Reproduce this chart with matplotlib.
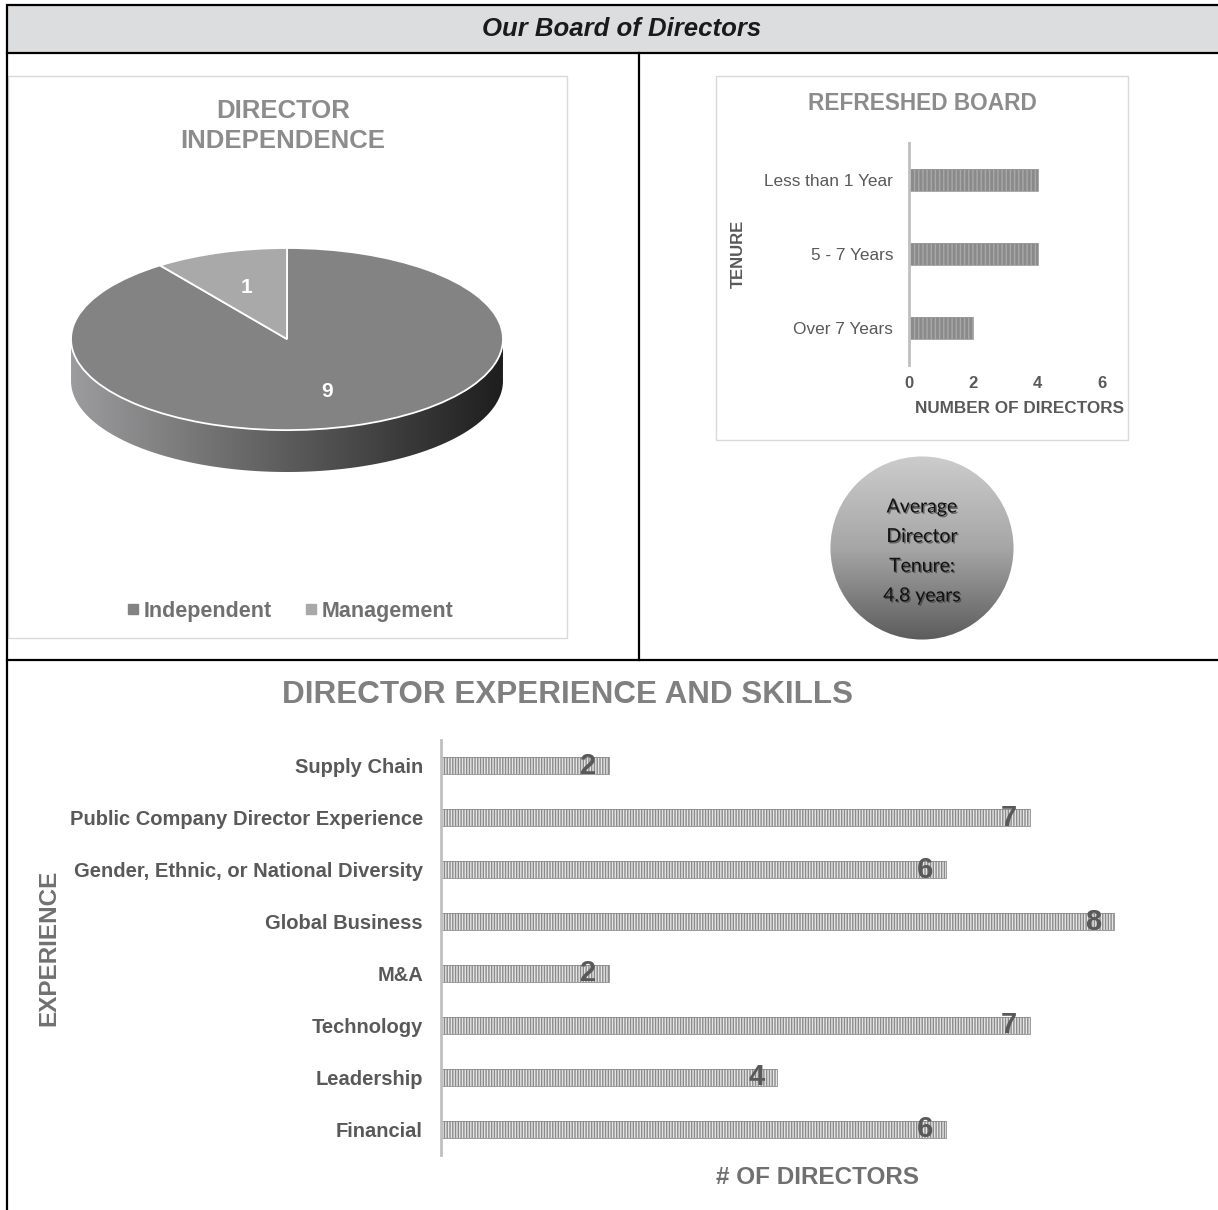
import numpy as np
import matplotlib
matplotlib.use("Agg")
import matplotlib.pyplot as plt
from matplotlib.patches import Rectangle, Polygon, Circle
from matplotlib.lines import Line2D
from matplotlib.colors import LinearSegmentedColormap
from matplotlib import patheffects

plt.rcParams['font.family'] = ['Liberation Sans', 'DejaVu Sans']
plt.rcParams['hatch.linewidth'] = 1.0

# data
independence_labels = ["Independent", "Management"]
independence_counts = [9, 1]

tenure_labels = ["Over 7 Years", "5 - 7 Years", "Less than 1 Year"]
tenure_counts = [2, 4, 4]
tenure_ticks = [0, 2, 4, 6]

avg_tenure = 4.8

skills = ["Supply Chain", "Public Company Director Experience",
          "Gender, Ethnic, or National Diversity", "Global Business",
          "M&A", "Technology", "Leadership", "Financial"]
skill_counts = [2, 7, 6, 8, 2, 7, 4, 6]

W, H = 1218, 1210
fig = plt.figure(figsize=(W / 100, H / 100), dpi=100)


def box(x0, y0, x1, y1):
    # pixel box -> figure fraction rect
    return [x0 / W, 1 - y1 / H, (x1 - x0) / W, (y1 - y0) / H]


# page frame / header
bg = fig.add_axes([0, 0, 1, 1], zorder=-10)
bg.set_xlim(0, W)
bg.set_ylim(H, 0)
bg.axis('off')
bg.add_patch(Rectangle((7, 5), 1230, 48, facecolor='#dcdddf', edgecolor='black', lw=1.6))
bg.plot([639, 639], [53, 660], color='black', lw=1.6)
bg.plot([7, W + 5], [660, 660], color='black', lw=1.6)
bg.plot([7, 7], [53, H + 5], color='black', lw=1.6)
bg.add_patch(Rectangle((8, 76), 559, 562, facecolor='none', edgecolor='#d9d9d9', lw=1))
bg.add_patch(Rectangle((716, 76), 412, 364, facecolor='none', edgecolor='#d9d9d9', lw=1))
bg.text(622, 29, "Our Board of Directors", ha='center', va='center',
        fontsize=18.5, fontweight='bold', fontstyle='italic', color='#1a1a1a')

# director independence (3d-ish pie)
bg.text(283, 126, "DIRECTOR\nINDEPENDENCE", ha='center', va='center',
        fontsize=18.5, fontweight='bold', color='#8c8c8c', linespacing=1.3)

pie_ax = fig.add_axes(box(68, 245, 506, 475))
depth = 0.46
t = np.linspace(np.pi, 2 * np.pi, 200)
side = np.concatenate([np.c_[np.cos(t), np.sin(t)],
                       np.c_[np.cos(t[::-1]), np.sin(t[::-1]) - depth]])
side_poly = Polygon(side, closed=True, facecolor='none', edgecolor='none')
pie_ax.add_patch(side_poly)
side_cmap = LinearSegmentedColormap.from_list('side', ['#9c9c9e', '#5c5c5c', '#1e1e1e'])
im = pie_ax.imshow(np.linspace(0, 1, 256).reshape(1, -1), extent=[-1, 1, -1 - depth, 0],
                   cmap=side_cmap, aspect='auto', zorder=0.5)
im.set_clip_path(side_poly)

total = sum(independence_counts)
wedges, texts, autotexts = pie_ax.pie(
    independence_counts, colors=['#838383', '#a9a9a9'], startangle=90,
    counterclock=False, autopct=lambda p: f"{round(p * total / 100)}",
    pctdistance=0.6, wedgeprops=dict(edgecolor='white', linewidth=1.3),
    textprops=dict(color='white', fontsize=15, fontweight='bold'))
for w in wedges:
    w.set_zorder(2)
for a in autotexts:
    a.set_zorder(3)
pie_ax.set_aspect('auto')
pie_ax.set_xlim(-1.014, 1.014)
pie_ax.set_ylim(-1 - depth - 0.033, 1.033)
pie_ax.axis('off')

handles = [Line2D([], [], marker='s', ls='none', markersize=7, color=c)
           for c in ['#838383', '#a9a9a9']]
fig.legend(handles, independence_labels, loc='center', bbox_to_anchor=(290 / W, 1 - 611 / H),
           ncol=2, frameon=False, handlelength=0.6, handletextpad=0.2, columnspacing=1.5,
           prop=dict(size=15.5, weight='bold'), labelcolor='#707070')

# refreshed board
bg.text(922, 103, "REFRESHED BOARD", ha='center', va='center',
        fontsize=16.3, fontweight='bold', color='#8c8c8c')
ax1 = fig.add_axes(box(909, 143, 1102, 365))
yt = np.arange(len(tenure_labels))
ax1.barh(yt, tenure_counts, height=0.3, color='#8a8a8a', hatch='||||',
         edgecolor='#a8a8a8', linewidth=0)
ax1.barh(yt, tenure_counts, height=0.3, fill=False, edgecolor='#9a9a9a', linewidth=0.6)
ax1.set_xlim(0, 6)
ax1.set_ylim(-0.5, 2.5)
ax1.set_xticks(tenure_ticks)
ax1.set_xticklabels([str(v) for v in tenure_ticks], fontsize=12, fontweight='bold', color='#595959')
ax1.set_yticks(yt)
ax1.set_yticklabels(tenure_labels, fontsize=12.4, color='#595959')
ax1.tick_params(length=0)
ax1.tick_params(axis='y', pad=11.5)
ax1.tick_params(axis='x', pad=8)
for s in ['top', 'right', 'bottom']:
    ax1.spines[s].set_visible(False)
ax1.spines['left'].set_color('#bfbfbf')
ax1.spines['left'].set_linewidth(2)
ax1.patch.set_alpha(0)
ax1.set_xlabel("NUMBER OF DIRECTORS", fontsize=12.3, fontweight='bold', color='#595959')
ax1.xaxis.set_label_coords((1019.5 - 909) / 193, -36 / 222)
ax1.set_ylabel("TENURE", fontsize=12, fontweight='bold', color='#595959')
ax1.yaxis.set_label_coords((746 - 909) / 193, 0.5)

# average tenure bubble
circ_ax = fig.add_axes(box(830, 456, 1014, 640))
circ_ax.set_xlim(-1, 1)
circ_ax.set_ylim(-1, 1)
circ_ax.axis('off')
circ_cmap = LinearSegmentedColormap.from_list('circ', ['#5c5c5c', '#a6a6a6', '#cccccc'])
im2 = circ_ax.imshow(np.linspace(1, 0, 256).reshape(-1, 1), extent=[-1, 1, -1, 1],
                     cmap=circ_cmap, aspect='auto')
disc = Circle((0, 0), 0.995, facecolor='none', edgecolor='none')
circ_ax.add_patch(disc)
im2.set_clip_path(disc)
bubble_lines = ["Average", "Director", "Tenure:", f"{avg_tenure} years"]
for i, line in enumerate(bubble_lines):
    circ_ax.text(0, 0.446 - i * 0.322, line, ha='center', va='center', fontsize=14,
                 family=['Lato', 'DejaVu Sans'], color='#111111',
                 path_effects=[patheffects.SimplePatchShadow(offset=(1, -1), shadow_rgbFace='#333333', alpha=0.6),
                               patheffects.Normal()])

# experience and skills
bg.text(568, 695, "DIRECTOR EXPERIENCE AND SKILLS", ha='center', va='center',
        fontsize=22.6, fontweight='bold', color='#808080')
ax2 = fig.add_axes(box(441, 740, 1198, 1155))
ys = np.arange(len(skills))[::-1]
bars = ax2.barh(ys, skill_counts, height=0.33, color='#8a8a8a', hatch='||||||',
                edgecolor='#e6e6e6', linewidth=0)
ax2.barh(ys, skill_counts, height=0.33, fill=False, edgecolor='#8a8a8a', linewidth=0.6)
ax2.bar_label(bars, padding=-21, fontsize=21, fontweight='bold', color='#595959')
ax2.set_xlim(0, 9)
ax2.set_ylim(-0.5, len(skills) - 0.5)
ax2.set_xticks([])
ax2.set_yticks(ys)
ax2.set_yticklabels(skills, fontsize=14.5, fontweight='bold', color='#595959')
ax2.tick_params(length=0, pad=13)
for s in ['top', 'right', 'bottom']:
    ax2.spines[s].set_visible(False)
ax2.spines['left'].set_color('#c0c0c0')
ax2.spines['left'].set_linewidth(2)
ax2.patch.set_alpha(0)
ax2.set_xlabel("# OF DIRECTORS", fontsize=17.5, fontweight='bold', color='#707070')
ax2.xaxis.set_label_coords(0.498, -11 / 415)
ax2.set_ylabel("EXPERIENCE", fontsize=17.5, fontweight='bold', color='#707070')
ax2.yaxis.set_label_coords((60 - 441) / 757, 0.5)

fig.savefig("out.png", dpi=100)
